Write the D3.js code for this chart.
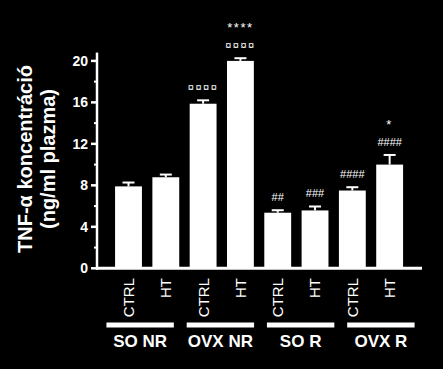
<!DOCTYPE html>
<html><head><meta charset="utf-8">
<script src="https://cdn.jsdelivr.net/npm/d3@7"></script>
<style>
html,body{margin:0;padding:0;background:#000;}
svg{display:block;}
text{font-family:Arial,"Liberation Sans",sans-serif;fill:#fff;}
</style></head><body>
<svg id="c" width="443" height="369"></svg>
<script>
const categories = ["CTRL","HT","CTRL","HT","CTRL","HT","CTRL","HT"];
const groups = ["SO NR","OVX NR","SO R","OVX R"];
const means = [7.9, 8.78, 15.87, 20.0, 5.36, 5.58, 7.5, 10.0];
const errors = [0.37, 0.26, 0.33, 0.26, 0.24, 0.38, 0.32, 0.93];
const annotations = [[],[],["¤¤¤¤"],["¤¤¤¤","****"],["##"],["###"],["####"],["####","*"]];
const yTicks = [0,4,8,12,16,20];
const yMinorTicks = [2,6,10,14,18];

const svg = d3.select("#c");
const W = 443, H = 369;
svg.append("rect").attr("width",W).attr("height",H).attr("fill","#000");

const y = d3.scaleLinear().domain([0,20.8]).range([268.3,52.6]);
const x = d3.scaleBand().domain(d3.range(categories.length)).range([109.85,408.3]).paddingInner(0.28).paddingOuter(0.14);
const gx = d3.scaleBand().domain(groups).range([100,421]).paddingInner(0.16).paddingOuter(0.08);

// bars
svg.selectAll("rect.bar").data(means).join("rect").attr("class","bar")
  .attr("x",(d,i)=>x(i)).attr("width",x.bandwidth())
  .attr("y",d=>y(d)).attr("height",d=>y(0)-y(d)).attr("fill","#fff");

// error bars
const eb = svg.append("g").attr("stroke","#fff").attr("stroke-width",2);
means.forEach((m,i)=>{
  const cx = x(i)+x.bandwidth()/2;
  eb.append("line").attr("x1",cx).attr("x2",cx).attr("y1",y(m)).attr("y2",y(m+errors[i]));
  eb.append("line").attr("x1",cx-6).attr("x2",cx+6).attr("y1",y(m+errors[i])).attr("y2",y(m+errors[i]));
});

// annotations
annotations.forEach((arr,i)=>{
  const cx = x(i)+x.bandwidth()/2;
  const top = y(means[i]+errors[i]);
  arr.forEach((t,j)=>{
    const isStar = t[0]==="*";
    svg.append("text").attr("x",cx).attr("y",top-9-j*22 + (isStar?5:0))
      .attr("text-anchor","middle")
      .attr("font-size", isStar? "13px":"11px")
      .attr("letter-spacing", t[0]==="#"?"0px":"1.5px")
      .text(t);
  });
});

// y axis
const ya = svg.append("g").attr("transform","translate(97,0)");
ya.append("line").attr("x1",0).attr("x2",0).attr("y1",y(0)+1.5).attr("y2",y(20.8)).attr("stroke","#fff").attr("stroke-width",2.5);
ya.selectAll("line.maj").data(yTicks).join("line").attr("class","maj")
  .attr("x1",-6).attr("x2",0).attr("y1",d=>y(d)).attr("y2",d=>y(d)).attr("stroke","#fff").attr("stroke-width",2.5);
ya.selectAll("line.min").data(yMinorTicks).join("line").attr("class","min")
  .attr("x1",-3).attr("x2",0).attr("y1",d=>y(d)).attr("y2",d=>y(d)).attr("stroke","#fff").attr("stroke-width",2);
ya.selectAll("text").data(yTicks).join("text")
  .attr("x",-9).attr("y",d=>y(d)).attr("dy","0.36em").attr("text-anchor","end")
  .attr("font-size","14px").attr("font-weight","bold").text(d=>d);

// x axis line
svg.append("line").attr("x1",97).attr("x2",422).attr("y1",y(0)).attr("y2",y(0)).attr("stroke","#fff").attr("stroke-width",3);

// category labels
svg.selectAll("text.cat").data(categories).join("text").attr("class","cat")
  .attr("transform",(d,i)=>`translate(${x(i)+x.bandwidth()/2},278) rotate(-90)`)
  .attr("dy","0.36em").attr("text-anchor","end").attr("font-size","15px").text(d=>d);

// group lines & labels
svg.selectAll("rect.grp").data(groups).join("rect").attr("class","grp")
  .attr("x",d=>gx(d)).attr("width",gx.bandwidth()).attr("y",322.5).attr("height",5).attr("fill","#fff");
svg.selectAll("text.grp").data(groups).join("text").attr("class","grp")
  .attr("x",d=>gx(d)+gx.bandwidth()/2).attr("y",347).attr("text-anchor","middle")
  .attr("font-size","17px").attr("font-weight","bold").text(d=>d);

// y title
const yt = svg.append("text").attr("transform","translate(32,159) rotate(-90)")
  .attr("text-anchor","middle").attr("font-size","20px").attr("font-weight","bold");
yt.append("tspan").attr("x",0).attr("y",0).text("TNF-α koncentráció");
yt.append("tspan").attr("x",0).attr("y",23).text("(ng/ml plazma)");
</script>
</body></html>
